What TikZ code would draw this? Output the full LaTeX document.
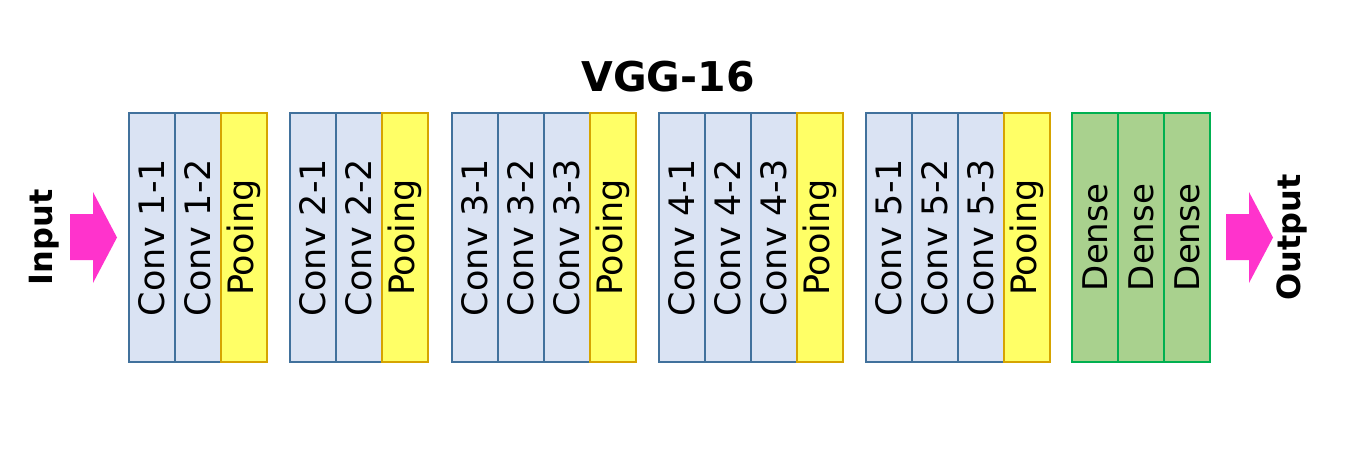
\documentclass[tikz,border=0pt]{standalone}
\usepackage{fontspec}
\setmainfont{DejaVu Sans}
\definecolor{convfill}{HTML}{DAE3F3}
\definecolor{convdraw}{HTML}{41719C}
\definecolor{poolfill}{HTML}{FFFF66}
\definecolor{pooldraw}{HTML}{D6A400}
\definecolor{densefill}{HTML}{A9D18E}
\definecolor{densedraw}{HTML}{00B050}
\definecolor{arrowcol}{HTML}{FF33CC}
\tikzset{
  layer/.style={rotate=90, minimum width=249pt, minimum height=46pt, inner sep=0pt, line width=1.5pt,
    font=\fontsize{35}{42}\selectfont},
  convbox/.style={layer, fill=convfill, draw=convdraw},
  poolbox/.style={layer, fill=poolfill, draw=pooldraw},
  densebox/.style={layer, fill=densefill, draw=densedraw, font=\fontsize{34}{40}\selectfont},
  sidelabel/.style={rotate=90, font=\bfseries\fontsize{32}{38}\selectfont, inner sep=0pt},
  blockarrow/.style={fill=arrowcol, draw=none}
}
\begin{document}
\begin{tikzpicture}[x=1pt,y=1pt]
\useasboundingbox (0,0) rectangle (1357,451);
\node[font=\bfseries\fontsize{41}{48}\selectfont, inner sep=0pt] (title) at (668,374) {VGG-16};
% group 1
\node[convbox] (c11) at (152,213.5) {Conv 1-1};
\node[convbox] (c12) at (198,213.5) {Conv 1-2};
\node[poolbox] (p1) at (244,213.5) {Pooing};
% group 2
\node[convbox] (c21) at (313,213.5) {Conv 2-1};
\node[convbox] (c22) at (359,213.5) {Conv 2-2};
\node[poolbox] (p2) at (405,213.5) {Pooing};
% group 3
\node[convbox] (c31) at (475,213.5) {Conv 3-1};
\node[convbox] (c32) at (521,213.5) {Conv 3-2};
\node[convbox] (c33) at (567,213.5) {Conv 3-3};
\node[poolbox] (p3) at (613,213.5) {Pooing};
% group 4
\node[convbox] (c41) at (682,213.5) {Conv 4-1};
\node[convbox] (c42) at (728,213.5) {Conv 4-2};
\node[convbox] (c43) at (774,213.5) {Conv 4-3};
\node[poolbox] (p4) at (820,213.5) {Pooing};
% group 5
\node[convbox] (c51) at (889,213.5) {Conv 5-1};
\node[convbox] (c52) at (935,213.5) {Conv 5-2};
\node[convbox] (c53) at (981,213.5) {Conv 5-3};
\node[poolbox] (p5) at (1027,213.5) {Pooing};
% dense
\node[densebox] (d1) at (1095,213.5) {Dense};
\node[densebox] (d2) at (1141,213.5) {Dense};
\node[densebox] (d3) at (1187,213.5) {Dense};
% input / output
\node[sidelabel] (in) at (44,213.5) {Input};
\node[sidelabel] (out) at (1292,213.5) {Output};
\fill[blockarrow] (70,237) -- (93,237) -- (93,259) -- (117,213.5) -- (93,168) -- (93,191) -- (70,191) -- cycle;
\fill[blockarrow] (1226,237) -- (1249,237) -- (1249,259) -- (1273,213.5) -- (1249,168) -- (1249,191) -- (1226,191) -- cycle;
\end{tikzpicture}
\end{document}
